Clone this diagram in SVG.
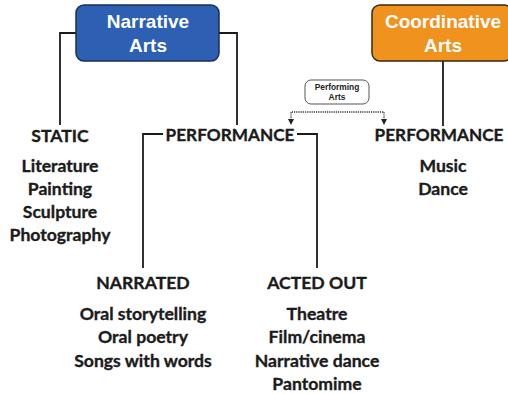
<svg xmlns="http://www.w3.org/2000/svg" width="508" height="394" viewBox="0 0 508 394">
<defs>
<style>
.t{font-family:Lato,"Open Sans","Liberation Sans",sans-serif;font-weight:bold;font-size:17.6px;fill:#1b1b1b;stroke:#1b1b1b;stroke-width:0.35;text-anchor:middle}
.p{font-size:17.2px}
.bt{font-family:"Liberation Sans",Arial,sans-serif;font-weight:bold;font-size:19px;fill:#ffffff;text-anchor:middle}
.st{font-family:"Liberation Sans",Arial,sans-serif;font-weight:bold;font-size:8.4px;fill:#222;text-anchor:middle}
.ln{fill:none;stroke:#1b1b1b;stroke-width:1.8}
.dt{fill:none;stroke:#333;stroke-width:1.3;stroke-dasharray:1.2 1}
</style>
</defs>
<rect width="508" height="394" fill="#ffffff"/>
<g id="connectors">
<path class="ln" d="M76,33 H60 V125"/>
<path class="ln" d="M219,33 H237 V125"/>
<path class="ln" d="M443,61 V126"/>
<path class="ln" d="M163,134 H143 V268"/>
<path class="ln" d="M297,134 H317 V268"/>
<path class="dt" d="M291,120 V112 H384 V120"/>
<path d="M288,119 L294,119 L291,125 Z" fill="#222"/>
<path d="M381,119 L387,119 L384,125 Z" fill="#222"/>
</g>
<g id="narrative-arts">
<rect x="76" y="5" width="143" height="56" rx="8" fill="#2d5fb3" stroke="#1a2f55" stroke-width="1.5"/>
<text class="bt" x="148" y="28">Narrative</text>
<text class="bt" x="148" y="52">Arts</text>
</g>
<g id="coordinative-arts">
<rect x="372" y="5" width="140" height="56" rx="8" fill="#f0921e" stroke="#3a2a10" stroke-width="1.5"/>
<text class="bt" x="443" y="28">Coordinative</text>
<text class="bt" x="443" y="52">Arts</text>
</g>
<g id="performing-arts">
<rect x="305" y="80" width="64" height="24" rx="6" fill="#ffffff" stroke="#555" stroke-width="1"/>
<text class="st" x="337" y="90">Performing</text>
<text class="st" x="337" y="100">Arts</text>
</g>
<g id="static">
<text class="t" x="60" y="142">STATIC</text>
<text class="t" x="60" y="172">Literature</text>
<text class="t" x="60" y="195">Painting</text>
<text class="t" x="60" y="218">Sculpture</text>
<text class="t" x="60" y="241">Photography</text>
</g>
<g id="performance-narrative">
<text class="t p" x="230" y="141">PERFORMANCE</text>
</g>
<g id="performance-coordinative">
<text class="t p" x="439" y="141">PERFORMANCE</text>
<text class="t" x="443" y="172">Music</text>
<text class="t" x="443" y="195">Dance</text>
</g>
<g id="narrated">
<text class="t" x="143" y="289">NARRATED</text>
<text class="t" x="143" y="320">Oral storytelling</text>
<text class="t" x="143" y="343">Oral poetry</text>
<text class="t" x="143" y="367">Songs with words</text>
</g>
<g id="acted-out">
<text class="t" x="317" y="289">ACTED OUT</text>
<text class="t" x="317" y="320">Theatre</text>
<text class="t" x="317" y="343">Film/cinema</text>
<text class="t" x="317" y="367">Narrative dance</text>
<text class="t" x="317" y="390">Pantomime</text>
</g>
</svg>
